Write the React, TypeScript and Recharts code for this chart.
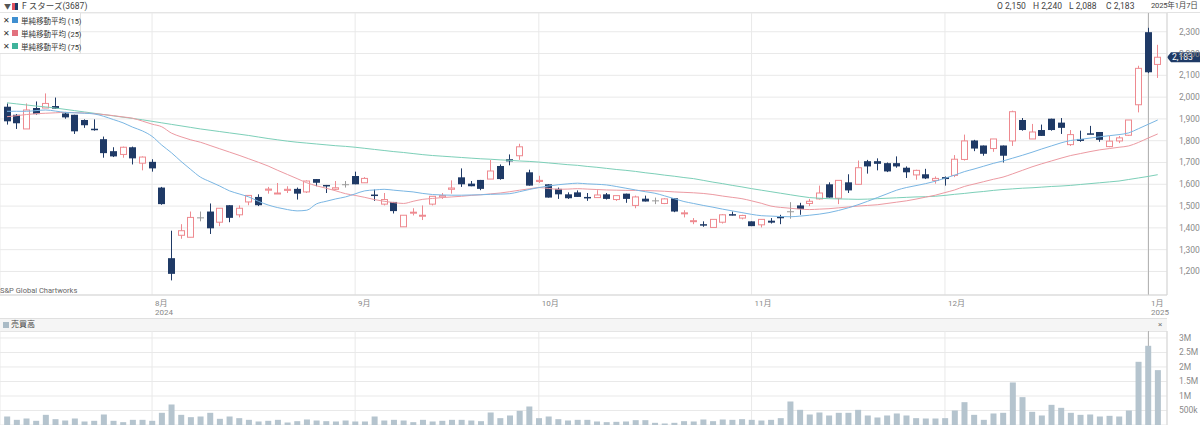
import React from 'react';
import { ComposedChart, BarChart, Bar, Line, XAxis, YAxis, CartesianGrid, ReferenceLine } from 'recharts';

// 日足 2024/7/10 - 2025/1/7 (120本)
const opens = [
  1956, 1919, 1854, 1950, 1950, 1959, 1925, 1919, 1895, 1855,
  1807, 1752, 1737, 1770, 1697, 1703, 1585, 1261, 1366, 1357,
  1446, 1475, 1426, 1504, 1460, 1519, 1542, 1573, 1557, 1572,
  1579, 1565, 1624, 1597, 1577, 1598, 1638, 1607, 1553, 1509,
  1519, 1405, 1470, 1455, 1509, 1542, 1577, 1632, 1603, 1620,
  1624, 1684, 1715, 1731, 1655, 1613, 1600, 1579, 1554, 1563,
  1542, 1539, 1554, 1530, 1557, 1503, 1534, 1524, 1512, 1536,
  1466, 1430, 1417, 1402, 1426, 1463, 1445, 1430, 1414, 1433,
  1451, 1474, 1503, 1512, 1533, 1600, 1536, 1609, 1600, 1706,
  1706, 1697, 1697, 1676, 1643, 1646, 1618, 1633, 1641, 1714,
  1801, 1778, 1764, 1778, 1799, 1895, 1808, 1849, 1901, 1883,
  1782, 1808, 1834, 1840, 1773, 1799, 1825, 1965, 2298, 2150,
];
const highs = [
  1971, 1922, 1971, 1980, 2017, 1998, 1932, 1919, 1898, 1898,
  1819, 1770, 1773, 1773, 1728, 1715, 1588, 1387, 1417, 1475,
  1475, 1512, 1490, 1504, 1503, 1549, 1554, 1588, 1606, 1591,
  1585, 1618, 1624, 1597, 1615, 1615, 1658, 1633, 1576, 1560,
  1519, 1458, 1490, 1503, 1545, 1560, 1618, 1673, 1615, 1620,
  1712, 1691, 1737, 1786, 1667, 1639, 1600, 1585, 1563, 1572,
  1560, 1573, 1560, 1548, 1557, 1548, 1548, 1539, 1536, 1536,
  1481, 1445, 1430, 1439, 1463, 1475, 1460, 1430, 1439, 1445,
  1460, 1518, 1515, 1533, 1594, 1609, 1618, 1646, 1709, 1712,
  1719, 1700, 1728, 1682, 1667, 1671, 1636, 1636, 1734, 1828,
  1804, 1778, 1808, 1778, 1938, 1904, 1877, 1874, 1901, 1904,
  1849, 1846, 1868, 1840, 1822, 1822, 1895, 2144, 2318, 2240,
];
const lows = [
  1874, 1854, 1854, 1920, 1950, 1947, 1901, 1831, 1859, 1846,
  1722, 1725, 1722, 1691, 1664, 1658, 1506, 1159, 1350, 1357,
  1430, 1372, 1408, 1426, 1448, 1504, 1500, 1557, 1557, 1560,
  1530, 1560, 1591, 1560, 1573, 1585, 1600, 1607, 1524, 1503,
  1466, 1405, 1457, 1436, 1503, 1533, 1557, 1588, 1591, 1573,
  1624, 1621, 1687, 1712, 1594, 1606, 1539, 1533, 1533, 1542,
  1524, 1539, 1530, 1524, 1515, 1490, 1521, 1509, 1509, 1472,
  1448, 1417, 1405, 1402, 1420, 1457, 1439, 1408, 1402, 1420,
  1417, 1442, 1460, 1500, 1530, 1539, 1509, 1560, 1600, 1649,
  1664, 1656, 1676, 1629, 1621, 1624, 1603, 1594, 1633, 1709,
  1752, 1731, 1749, 1700, 1776, 1846, 1808, 1822, 1846, 1831,
  1776, 1795, 1830, 1795, 1770, 1789, 1822, 1930, 2110, 2088,
];
const closes = [
  1889, 1880, 1941, 1922, 1971, 1947, 1907, 1843, 1871, 1849,
  1743, 1728, 1770, 1719, 1725, 1673, 1509, 1189, 1387, 1448,
  1446, 1398, 1490, 1446, 1490, 1549, 1504, 1578, 1560, 1577,
  1557, 1615, 1607, 1591, 1584, 1598, 1600, 1627, 1548, 1530,
  1477, 1458, 1472, 1458, 1545, 1548, 1583, 1600, 1591, 1579,
  1661, 1624, 1705, 1772, 1594, 1618, 1539, 1554, 1536, 1542,
  1536, 1551, 1533, 1548, 1533, 1542, 1521, 1524, 1533, 1475,
  1469, 1433, 1413, 1439, 1460, 1457, 1457, 1408, 1439, 1424,
  1445, 1474, 1487, 1522, 1560, 1539, 1618, 1572, 1676, 1682,
  1694, 1659, 1682, 1655, 1664, 1627, 1627, 1624, 1715, 1799,
  1764, 1740, 1808, 1731, 1933, 1849, 1840, 1822, 1849, 1859,
  1828, 1799, 1830, 1804, 1798, 1813, 1895, 2132, 2114, 2183,
];
// 売買高
const volumes = [
  293000, 178000, 224000, 144000, 350000, 201000, 155000, 224000, 121000, 144000,
  362000, 144000, 98000, 178000, 178000, 144000, 420000, 707000, 350000, 270000,
  293000, 420000, 213000, 293000, 236000, 178000, 121000, 144000, 178000, 86000,
  132000, 190000, 155000, 132000, 121000, 155000, 121000, 121000, 293000, 155000,
  178000, 155000, 98000, 178000, 121000, 144000, 178000, 178000, 155000, 132000,
  431000, 236000, 328000, 489000, 638000, 236000, 293000, 201000, 155000, 178000,
  178000, 121000, 98000, 109000, 121000, 167000, 167000, 75000, 52000, 75000,
  132000, 121000, 190000, 132000, 190000, 178000, 201000, 178000, 155000, 178000,
  236000, 810000, 523000, 362000, 431000, 328000, 420000, 420000, 523000, 328000,
  259000, 328000, 397000, 328000, 236000, 224000, 224000, 236000, 500000, 787000,
  350000, 178000, 397000, 420000, 1466000, 960000, 454000, 328000, 695000, 592000,
  420000, 350000, 362000, 293000, 316000, 293000, 500000, 2178000, 2730000, 1891000,
];
// 単純移動平均
const ma15 = [
  1935, 1935, 1935, 1938, 1941, 1936, 1930, 1928, 1926, 1923,
  1912, 1897, 1882, 1862, 1845, 1820, 1780, 1745, 1705, 1668,
  1633, 1612, 1592, 1570, 1556, 1542, 1522, 1505, 1493, 1484,
  1478, 1481, 1510, 1522, 1533, 1542, 1556, 1570, 1574, 1577,
  1573, 1569, 1565, 1558, 1553, 1551, 1550, 1550, 1551, 1552,
  1554, 1555, 1557, 1566, 1576, 1585, 1592, 1598, 1602, 1605,
  1602, 1600, 1597, 1590, 1582, 1574, 1566, 1559, 1547, 1534,
  1521, 1512, 1503, 1495, 1486, 1478, 1470, 1462, 1456, 1454,
  1452, 1451, 1454, 1458, 1463, 1470, 1480, 1492, 1506, 1522,
  1539, 1556, 1573, 1585, 1594, 1603, 1614, 1628, 1642, 1658,
  1670, 1683, 1696, 1707, 1720, 1733, 1747, 1762, 1776, 1790,
  1801, 1806, 1812, 1818, 1823, 1828, 1836, 1855, 1875, 1895,
];
const ma25 = [
  1910, 1915, 1920, 1924, 1926, 1928, 1930, 1929, 1927, 1924,
  1920, 1915, 1909, 1903, 1890, 1876, 1864, 1835, 1818, 1804,
  1793, 1778, 1763, 1748, 1733, 1717, 1701, 1684, 1664, 1645,
  1626, 1607, 1593, 1582, 1570, 1557, 1549, 1540, 1530, 1522,
  1516, 1512, 1522, 1531, 1535, 1539, 1542, 1545, 1549, 1552,
  1556, 1560, 1566, 1573, 1579, 1585, 1581, 1577, 1578, 1580,
  1578, 1576, 1574, 1573, 1572, 1572, 1571, 1570, 1568, 1565,
  1563, 1561, 1558, 1553, 1546, 1540, 1534, 1524, 1513, 1500,
  1494, 1490, 1486, 1484, 1486, 1488, 1492, 1496, 1500, 1503,
  1506, 1512, 1518, 1524, 1532, 1541, 1550, 1562, 1574, 1590,
  1601, 1612, 1623, 1633, 1648, 1664, 1680, 1694, 1707, 1720,
  1732, 1741, 1750, 1758, 1764, 1770, 1776, 1792, 1812, 1831,
];
const ma75 = [
  1974, 1969, 1964, 1959, 1955, 1950, 1944, 1938, 1932, 1926,
  1920, 1914, 1908, 1902, 1896, 1889, 1882, 1875, 1868, 1861,
  1854, 1848, 1842, 1836, 1830, 1824, 1817, 1810, 1804, 1798,
  1793, 1789, 1785, 1781, 1777, 1774, 1770, 1765, 1760, 1755,
  1750, 1746, 1741, 1736, 1732, 1729, 1726, 1723, 1720, 1717,
  1715, 1712, 1710, 1707, 1705, 1702, 1698, 1694, 1690, 1687,
  1682, 1678, 1673, 1668, 1664, 1659, 1653, 1648, 1642, 1637,
  1631, 1626, 1618, 1610, 1603, 1595, 1588, 1580, 1573, 1566,
  1559, 1552, 1545, 1539, 1536, 1534, 1533, 1532, 1531, 1532,
  1534, 1536, 1538, 1540, 1542, 1543, 1545, 1549, 1554, 1558,
  1563, 1567, 1572, 1576, 1579, 1582, 1584, 1587, 1590, 1592,
  1595, 1599, 1603, 1607, 1611, 1615, 1622, 1629, 1636, 1644,
];

const monthTicks = [15, 36, 55, 77, 97, 118];
const monthLabels = ['8月', '9月', '10月', '11月', '12月', '1月'];
const yearLabels = ['2024', '', '', '', '', '2025'];
const priceTicks = [1200, 1300, 1400, 1500, 1600, 1700, 1800, 1900, 2000, 2100, 2200, 2300];
const volTicks = [500000, 1000000, 1500000, 2000000, 2500000, 3000000];
const volLabels = ['500k', '1M', '1.5M', '2M', '2.5M', '3M'];
const LAST_DAY = 118; // 1月6日 (カーソル位置)

const rows = opens.map((o, i) => ({
  i,
  open: o,
  high: highs[i],
  low: lows[i],
  close: closes[i],
  range: [lows[i], highs[i]],
  vol: volumes[i],
  ma15: ma15[i],
  ma25: ma25[i],
  ma75: ma75[i],
}));

const FONT = "Roboto, 'Noto Sans CJK JP', sans-serif";
const X_DOMAIN: [number, number] = [-0.724, 119.96];
const NAVY = '#1f3a66';
const PINK = '#ee8a90';
const GRID = '#e9e9e9';
const CURSOR = '#b4b4b4';

// ローソク足
function Candle(props: any) {
  const { x, y, width, height, payload, background } = props;
  const { open, close, high, low } = payload;
  const top = Math.min(y, y + height);
  const h = Math.abs(height);
  const k = high === low ? 0 : h / (high - low);
  const yOf = (p: number) => top + (high - p) * k;
  const cx = Math.round(x + width / 2) + 0.5;
  const flat = open === close;
  const up = close > open;
  const color = flat ? '#9a9a9a' : up ? PINK : NAVY;
  const bTop = yOf(Math.max(open, close));
  const bBot = yOf(Math.min(open, close));
  const bw = 6;
  return (
    <g>
      {payload.i === LAST_DAY && background && (
        <line x1={cx} x2={cx} y1={background.y} y2={background.y + background.height} stroke={CURSOR} />
      )}
      <line x1={cx} x2={cx} y1={top} y2={top + h} stroke={color} strokeWidth={1} />
      {flat ? (
        <line x1={cx - 3.5} x2={cx + 3.5} y1={bTop} y2={bTop} stroke={color} strokeWidth={1} />
      ) : up ? (
        <rect x={cx - bw / 2} y={bTop} width={bw} height={Math.max(bBot - bTop, 1)} fill="#fff" stroke={color} strokeWidth={1} />
      ) : (
        <rect x={cx - bw / 2 - 0.5} y={bTop} width={bw + 1} height={Math.max(bBot - bTop, 1.5)} fill={color} />
      )}
    </g>
  );
}

function VolBar(props: any) {
  const { x, y, width, height, payload, background } = props;
  return (
    <g>
      {payload.i === LAST_DAY && background && (
        <line x1={Math.round(x + width / 2) + 0.5} x2={Math.round(x + width / 2) + 0.5} y1={background.y} y2={background.y + background.height} stroke={CURSOR} />
      )}
      <rect x={x} y={y} width={width} height={height} fill="#b5c4ce" />
    </g>
  );
}

function MonthTick(props: any) {
  const { x, y, payload } = props;
  const idx = monthTicks.indexOf(payload.value);
  return (
    <g>
      <text x={x + 3} y={y + 3} fontSize={8} fill="#888" fontFamily={FONT}>{monthLabels[idx]}</text>
      <text x={x + 3} y={y + 12} fontSize={8} fill="#888" fontFamily={FONT}>{yearLabels[idx]}</text>
    </g>
  );
}

function PriceTick(props: any) {
  const { x, y, payload } = props;
  return (
    <text x={x + 4} y={y + 3} fontSize={8.5} fill="#8a8a8a" fontFamily={FONT}>
      {payload.value.toLocaleString('en-US')}
    </text>
  );
}

function VolTick(props: any) {
  const { x, y, payload } = props;
  return (
    <text x={x + 4} y={y + 3} fontSize={8.5} fill="#8a8a8a" fontFamily={FONT}>
      {volLabels[volTicks.indexOf(payload.value)]}
    </text>
  );
}

function LastPriceTag(props: any) {
  const { viewBox } = props;
  const x = viewBox.x + viewBox.width;
  const y = viewBox.y;
  return (
    <g>
      <polygon points={`${x},${y} ${x + 4},${y - 5} ${x + 33},${y - 5} ${x + 33},${y + 5} ${x + 4},${y + 5}`} fill={NAVY} />
      <text x={x + 5} y={y + 3} fontSize={8.5} fill="#fff" fontFamily={FONT}>2,183</text>
    </g>
  );
}

const legendItems = [
  { label: '単純移動平均 (15)', color: '#3f8fd0' },
  { label: '単純移動平均 (25)', color: '#e2717e' },
  { label: '単純移動平均 (75)', color: '#3fb39b' },
];

const hdr: React.CSSProperties = { position: 'absolute', top: 0, fontSize: 8.5, color: '#444', lineHeight: '12px', whiteSpace: 'nowrap' };

export default function App() {
  return (
    <div style={{ position: 'relative', width: 1200, height: 425, background: '#fff', fontFamily: FONT, overflow: 'hidden' }}>
      <style>{'body{margin:0}'}</style>

      {/* header */}
      <div style={{ position: 'absolute', left: 0, top: 0, width: 1200, height: 12, borderBottom: '1px solid #e2e2e2' }} />
      <div style={{ position: 'absolute', left: 4, top: 1, fontSize: 7, color: '#555' }}>▼</div>
      <div style={{ position: 'absolute', left: 12, top: 3, width: 3, height: 7, background: '#e05060' }} />
      <div style={{ position: 'absolute', left: 15, top: 3, width: 3, height: 7, background: '#1f3a66' }} />
      <div style={{ ...hdr, left: 22 }}>F スターズ(3687)</div>
      <div style={{ ...hdr, left: 997 }}>O 2,150</div>
      <div style={{ ...hdr, left: 1033 }}>H 2,240</div>
      <div style={{ ...hdr, left: 1069 }}>L 2,088</div>
      <div style={{ ...hdr, left: 1106 }}>C 2,183</div>
      <div style={{ ...hdr, left: 1151, fontSize: 7.6, letterSpacing: -0.2 }}>2025年1月7日</div>

      {/* price chart */}
      <div style={{ position: 'absolute', left: 0, top: 0 }}>
        <ComposedChart width={1200} height={318} data={rows} margin={{ top: 13, right: 0, bottom: 0, left: 0 }}>
          <CartesianGrid stroke={GRID} strokeWidth={1} />
          <XAxis
            dataKey="i"
            type="number"
            domain={X_DOMAIN}
            allowDataOverflow
            ticks={monthTicks}
            interval={0}
            tick={<MonthTick />}
            tickLine={false}
            axisLine={{ stroke: '#d6d6d6' }}
            height={23}
          />
          <YAxis
            orientation="right"
            width={33}
            domain={[1092, 2386]}
            allowDataOverflow
            ticks={priceTicks}
            interval={0}
            tick={<PriceTick />}
            tickLine={false}
            axisLine={{ stroke: '#d6d6d6' }}
          />
          <Line dataKey="ma75" type="monotone" stroke="#7ccfb8" strokeWidth={1} dot={false} isAnimationActive={false} />
          <Line dataKey="ma25" type="monotone" stroke="#ec9aa2" strokeWidth={1} dot={false} isAnimationActive={false} />
          <Line dataKey="ma15" type="monotone" stroke="#7ab6e3" strokeWidth={1} dot={false} isAnimationActive={false} />
          <Bar dataKey="range" barSize={7} shape={<Candle />} isAnimationActive={false} />
          <ReferenceLine y={2183} stroke="none" label={<LastPriceTag />} />
        </ComposedChart>
      </div>

      {/* legend */}
      <div style={{ position: 'absolute', left: 0, top: 13, width: 80, height: 40, background: '#fff', borderRight: '1px solid #e2e2e2', borderBottom: '1px solid #e2e2e2' }}>
        {legendItems.map((it, k) => (
          <div key={k} style={{ position: 'absolute', left: 0, top: 1 + k * 13, height: 12, display: 'flex', alignItems: 'center', fontSize: 7.5, color: '#333', whiteSpace: 'nowrap' }}>
            <span style={{ width: 12, textAlign: 'center', fontSize: 8, color: '#333' }}>✕</span>
            <span style={{ width: 6, height: 6, background: it.color, marginRight: 3 }} />
            <span>{it.label}</span>
          </div>
        ))}
      </div>

      <div style={{ position: 'absolute', left: 0, top: 286, fontSize: 7.5, color: '#666' }}>S&amp;P Global Chartworks</div>

      {/* volume header */}
      <div style={{ position: 'absolute', left: 0, top: 318, width: 1167, height: 12, background: '#f5f5f5', borderTop: '1px solid #e0e0e0', borderBottom: '1px solid #e0e0e0' }} />
      <div style={{ position: 'absolute', left: 3, top: 322, width: 6, height: 6, background: '#aabbc6' }} />
      <div style={{ position: 'absolute', left: 11, top: 318, fontSize: 8, color: '#444', lineHeight: '13px' }}>売買高</div>
      <div style={{ position: 'absolute', left: 1158, top: 318, fontSize: 8, color: '#777', lineHeight: '13px' }}>×</div>

      {/* volume chart */}
      <div style={{ position: 'absolute', left: 0, top: 331 }}>
        <BarChart width={1200} height={94} data={rows} margin={{ top: 0, right: 0, bottom: 0, left: 0 }}>
          <CartesianGrid stroke={GRID} strokeWidth={1} />
          <XAxis dataKey="i" type="number" domain={X_DOMAIN} allowDataOverflow ticks={monthTicks} hide />
          <YAxis
            orientation="right"
            width={33}
            domain={[0, 3240000]}
            allowDataOverflow
            ticks={volTicks}
            interval={0}
            tick={<VolTick />}
            tickLine={false}
            axisLine={{ stroke: '#d6d6d6' }}
          />
          <Bar dataKey="vol" barSize={6} shape={<VolBar />} isAnimationActive={false} />
        </BarChart>
      </div>
    </div>
  );
}
